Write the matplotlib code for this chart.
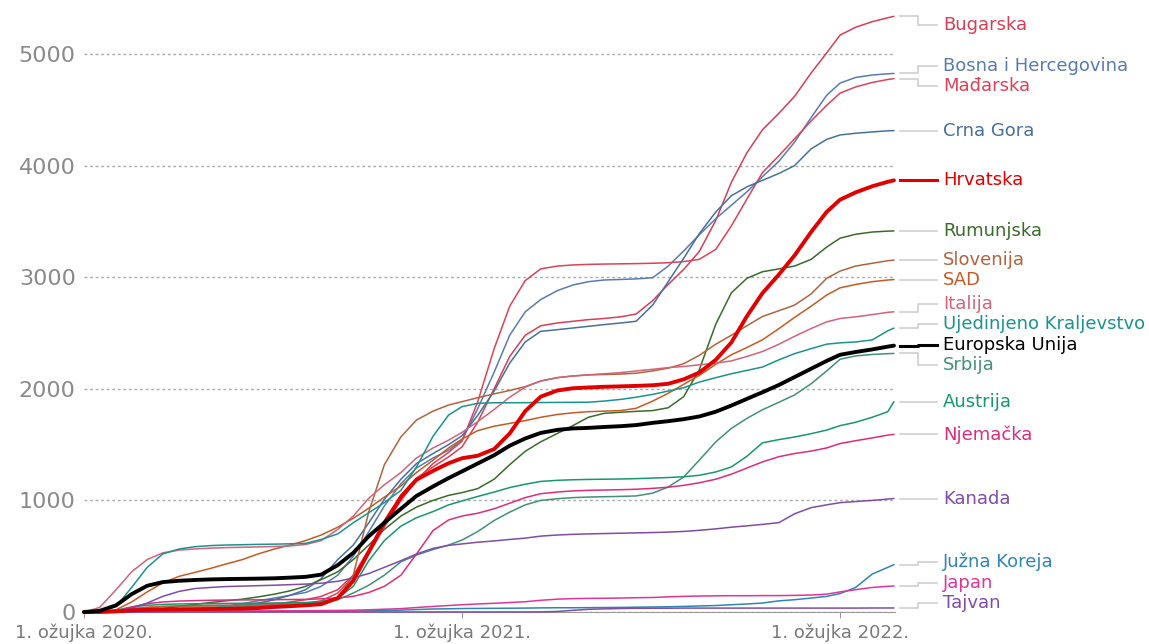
"""Kumulativni broj umrlih od COVID-19 na milijun stanovnika."""

import pandas as pd
import matplotlib
matplotlib.use("Agg")
import matplotlib.pyplot as plt
from matplotlib.lines import Line2D

# readings on the 1st and 16th of every month, Mar 2020 .. Apr 2022, plus the last day
months = pd.date_range("2020-03-01", "2022-04-01", freq="MS")
dates = []
for m in months:
    dates += [m, m + pd.Timedelta(days=15)]
dates.append(pd.Timestamp("2022-04-22"))

bugarska = [0, 0, 1, 3, 5, 10, 15, 22, 30, 38, 45, 58, 70, 90, 110, 140, 200,
            330, 560, 800, 1050, 1200, 1300, 1390, 1480, 1700, 2000, 2290,
            2480, 2565, 2590, 2605, 2620, 2630, 2645, 2670, 2790, 2935, 3070,
            3230, 3510, 3850, 4115, 4321, 4470, 4620, 4830, 5010, 5170, 5240,
            5290, 5325, 5338]
bosna = [0, 0, 2, 5, 10, 14, 18, 24, 30, 50, 75, 100, 125, 150, 175, 230, 330,
         500, 720, 950, 1150, 1290, 1380, 1450, 1540, 1820, 2150, 2480, 2690,
         2800, 2880, 2930, 2960, 2975, 2980, 2985, 2995, 3100, 3235, 3380, 3525,
         3645, 3765, 3900, 4040, 4210, 4430, 4630, 4740, 4790, 4812, 4823, 4826]
madarska = [0, 0, 2, 20, 40, 50, 55, 58, 60, 61, 62, 63, 64, 68, 75, 100, 170,
            320, 520, 760, 1000, 1180, 1330, 1430, 1530, 1880, 2360, 2740,
            2970, 3075, 3100, 3110, 3115, 3118, 3120, 3122, 3125, 3130, 3140,
            3160, 3250, 3460, 3700, 3937, 4090, 4240, 4400, 4540, 4650, 4705,
            4745, 4772, 4780]
crna_gora = [0, 0, 0, 5, 10, 12, 15, 17, 20, 35, 55, 80, 110, 150, 200, 300,
             470, 600, 800, 1010, 1190, 1330, 1420, 1500, 1580, 1760, 1980,
             2230, 2420, 2515, 2530, 2545, 2560, 2575, 2590, 2605, 2750, 2960,
             3170, 3390, 3585, 3730, 3810, 3868, 3930, 4000, 4150, 4235, 4275,
             4290, 4302, 4312, 4314]
hrvatska = [0, 0, 5, 15, 20, 23, 25, 26, 27, 28, 30, 35, 45, 52, 60, 70, 125,
            280, 540, 800, 1030, 1185, 1265, 1333, 1378, 1400, 1460, 1600,
            1800, 1930, 1985, 2005, 2012, 2018, 2022, 2026, 2032, 2045, 2085,
            2145, 2260, 2415, 2650, 2857, 3025, 3195, 3405, 3585, 3695, 3760,
            3815, 3855, 3868]
rumunjska = [0, 0, 3, 8, 15, 30, 50, 68, 85, 100, 115, 135, 160, 190, 230,
             290, 360, 470, 600, 740, 860, 940, 1000, 1045, 1070, 1105, 1190,
             1320, 1440, 1525, 1600, 1670, 1745, 1780, 1790, 1798, 1805, 1830,
             1930, 2170, 2580, 2860, 2990, 3049, 3075, 3100, 3160, 3270, 3350,
             3385, 3405, 3413, 3415]
slovenija = [0, 2, 15, 32, 42, 48, 52, 53, 53, 54, 55, 56, 58, 62, 70, 90,
             120, 330, 900, 1320, 1570, 1720, 1800, 1855, 1885, 1920, 1955,
             1985, 2020, 2070, 2100, 2115, 2125, 2128, 2132, 2140, 2160, 2185,
             2225, 2300, 2400, 2480, 2565, 2648, 2700, 2750, 2850, 2990, 3055,
             3100, 3125, 3148, 3153]
sad = [0, 2, 20, 90, 180, 260, 320, 355, 390, 430, 470, 520, 565, 600, 640,
       690, 760, 840, 930, 1030, 1130, 1250, 1360, 1470, 1550, 1625, 1665,
       1690, 1715, 1745, 1770, 1785, 1795, 1800, 1805, 1825, 1890, 1960, 2040,
       2120, 2220, 2305, 2370, 2439, 2540, 2640, 2740, 2840, 2905, 2935, 2960,
       2975, 2979]
italija = [0, 40, 200, 360, 470, 530, 555, 565, 572, 577, 580, 583, 587, 592,
           605, 640, 740, 860, 1020, 1140, 1250, 1380, 1470, 1540, 1610, 1705,
           1815, 1925, 2015, 2070, 2100, 2115, 2125, 2135, 2145, 2160, 2175,
           2190, 2200, 2215, 2230, 2250, 2290, 2334, 2400, 2470, 2540, 2600,
           2630, 2645, 2665, 2685, 2690]
uk = [0, 5, 50, 220, 400, 520, 565, 585, 595, 600, 603, 606, 608, 611, 615,
      650, 700, 800, 890, 980, 1090, 1300, 1575, 1765, 1840, 1870, 1875, 1875,
      1876, 1877, 1878, 1879, 1880, 1890, 1905, 1925, 1950, 1980, 2010, 2060,
      2100, 2135, 2165, 2195, 2260, 2315, 2360, 2400, 2412, 2420, 2438, 2520,
      2544]
eu = [0, 10, 60, 160, 235, 268, 280, 287, 292, 295, 297, 299, 302, 308, 315,
      335, 420, 530, 680, 800, 925, 1040, 1125, 1200, 1260, 1330, 1405, 1490,
      1555, 1605, 1632, 1645, 1650, 1658, 1665, 1675, 1695, 1710, 1728, 1752,
      1795, 1850, 1910, 1969, 2035, 2105, 2180, 2250, 2305, 2330, 2353, 2378,
      2387]
srbija = [0, 0, 2, 5, 10, 14, 18, 25, 35, 50, 65, 72, 78, 80, 82, 85, 110,
          170, 240, 330, 450, 510, 560, 600, 645, 720, 820, 895, 960, 1000,
          1015, 1025, 1030, 1033, 1036, 1040, 1065, 1120, 1210, 1360, 1525,
          1645, 1735, 1812, 1880, 1945, 2045, 2160, 2265, 2295, 2308, 2315,
          2317]
austrija = [0, 2, 15, 45, 60, 68, 72, 74, 75, 77, 78, 79, 80, 82, 85, 95, 125,
            230, 460, 640, 770, 845, 900, 960, 995, 1035, 1075, 1115, 1145,
            1170, 1180, 1185, 1188, 1190, 1192, 1195, 1200, 1205, 1212, 1225,
            1255, 1300, 1395, 1516, 1545, 1568, 1598, 1630, 1670, 1700, 1745,
            1795, 1885]
njemacka = [0, 1, 10, 45, 75, 90, 98, 102, 105, 107, 108, 109, 110, 112, 113,
            118, 125, 140, 175, 230, 330, 520, 730, 825, 860, 885, 925, 975,
            1025, 1060, 1075, 1085, 1090, 1093, 1096, 1100, 1108, 1118, 1135,
            1158, 1190, 1235, 1290, 1345, 1392, 1420, 1442, 1470, 1510, 1535,
            1560, 1585, 1592]
kanada = [0, 0, 5, 35, 80, 140, 185, 210, 220, 228, 232, 236, 240, 245, 250,
          258, 275, 305, 345, 400, 460, 520, 570, 597, 610, 625, 637, 650, 662,
          680, 690, 696, 700, 703, 706, 709, 712, 716, 722, 732, 745, 760, 772,
          785, 801, 880, 935, 960, 980, 990, 1000, 1012, 1017]
juzna_koreja = [0, 0, 2, 3, 4, 5, 5, 5, 5, 5, 6, 6, 6, 7, 8, 8, 9, 9, 10, 13,
                17, 22, 27, 29, 31, 32, 33, 34, 35, 37, 38, 38, 39, 40, 41, 43,
                45, 47, 50, 54, 58, 65, 72, 80, 100, 110, 125, 140, 165, 220,
                340, 400, 425]
japan = [0, 0, 1, 2, 3, 5, 7, 8, 8, 8, 8, 9, 10, 11, 12, 13, 14, 16, 20, 25,
         30, 40, 50, 58, 65, 72, 78, 85, 92, 105, 115, 120, 122, 123, 125, 128,
         130, 136, 140, 143, 145, 146, 146, 147, 147, 149, 152, 160, 180, 200,
         220, 230, 233]
tajvan = [0, 0, 0.1, 0.2, 0.3, 0.3, 0.3, 0.3, 0.3, 0.3, 0.3, 0.3, 0.3, 0.3,
          0.3, 0.3, 0.3, 0.3, 0.3, 0.3, 0.3, 0.3, 0.4, 0.4, 0.4, 0.4, 0.4, 0.5,
          0.5, 1, 5, 15, 24, 28, 31, 33, 34, 34, 35, 35, 35, 35, 35, 35, 35,
          35, 35, 35, 35, 35, 36, 36, 36]

series = {
    "Bugarska": bugarska,
    "Bosna i Hercegovina": bosna,
    "Mađarska": madarska,
    "Crna Gora": crna_gora,
    "Hrvatska": hrvatska,
    "Rumunjska": rumunjska,
    "Slovenija": slovenija,
    "SAD": sad,
    "Italija": italija,
    "Ujedinjeno Kraljevstvo": uk,
    "Europska Unija": eu,
    "Srbija": srbija,
    "Austrija": austrija,
    "Njemačka": njemacka,
    "Kanada": kanada,
    "Južna Koreja": juzna_koreja,
    "Japan": japan,
    "Tajvan": tajvan,
}

palette = {
    "Bugarska": "#d83e55",
    "Bosna i Hercegovina": "#5a7bb0",
    "Mađarska": "#dc4259",
    "Crna Gora": "#47709c",
    "Hrvatska": "#e00000",
    "Rumunjska": "#3a6b2b",
    "Slovenija": "#b0643e",
    "SAD": "#c65a24",
    "Italija": "#d0647b",
    "Ujedinjeno Kraljevstvo": "#1b938d",
    "Europska Unija": "#000000",
    "Srbija": "#42907a",
    "Austrija": "#17986b",
    "Njemačka": "#dc2d7c",
    "Kanada": "#7f4ca8",
    "Južna Koreja": "#2e86b2",
    "Japan": "#df3598",
    "Tajvan": "#7f4ca8",
}
highlight = ["Hrvatska", "Europska Unija"]

W, H = 1149, 644


def spread_labels(values, gap, top, bottom):
    """Push label positions (display px) apart so they do not overlap."""
    names = sorted(values, key=lambda k: -values[k])
    pos = {k: values[k] for k in names}
    for _ in range(300):
        for a, b in zip(names[:-1], names[1:]):
            diff = pos[a] - pos[b]
            if diff < gap:
                shift = (gap - diff) / 2
                pos[a] += shift
                pos[b] -= shift
        for k in names:
            pos[k] = min(max(pos[k], bottom), top)
    return pos


fig = plt.figure(figsize=(W / 100, H / 100), dpi=100)
ax = fig.add_axes([84 / W, 32 / H, 811 / W, 602.6 / H])

for name, values in series.items():
    thick = name in highlight
    ax.plot(dates, values, color=palette[name], lw=2.8 if thick else 1.1,
            zorder=5 if thick else 2, clip_on=False,
            solid_capstyle="round", solid_joinstyle="round")

ax.set_xlim(pd.Timestamp("2020-03-01"), pd.Timestamp("2022-04-23"))
ax.set_ylim(0, 5400)

ticks = [pd.Timestamp("2020-03-01"), pd.Timestamp("2021-03-01"),
         pd.Timestamp("2022-03-01")]
ax.set_xticks(ticks)
ax.set_xticklabels(["1. ožujka 2020.", "1. ožujka 2021.", "1. ožujka 2022."])
ax.set_yticks([0, 1000, 2000, 3000, 4000, 5000])
ax.tick_params(axis="x", length=4, color="#999999", labelcolor="#7a7a7a",
               labelsize=13, pad=4)
ax.tick_params(axis="y", length=0, labelcolor="#8a8a8a", labelsize=16, pad=6)
ax.yaxis.grid(True, linestyle=(0, (2, 2)), color="#aaaaaa", lw=1)
ax.set_axisbelow(True)
for side in ["left", "right", "top"]:
    ax.spines[side].set_visible(False)
ax.spines["bottom"].set_color("#999999")
ax.spines["bottom"].set_zorder(1)

# labels at the right with elbow connectors
fig.canvas.draw()
ends = {}
for name, values in series.items():
    ends[name] = ax.transData.transform((ax.get_xlim()[1], values[-1]))[1]
label_pos = spread_labels(ends, 20.5, H - 25, H - 603)

for name in series:
    y0 = ends[name]
    y1 = label_pos[name]
    if name in highlight:
        c, lw = palette[name], 2.2
    else:
        c, lw = "#cccccc", 1.1
    xs = [900 / W, 918 / W, 918 / W, 937 / W]
    ys = [y0 / H, y0 / H, y1 / H, y1 / H]
    fig.add_artist(Line2D(xs, ys, color=c, lw=lw, transform=fig.transFigure))
    fig.text(943 / W, y1 / H, name, color=palette[name], fontsize=13,
             va="center", ha="left")

fig.savefig("out.png", dpi=100)
